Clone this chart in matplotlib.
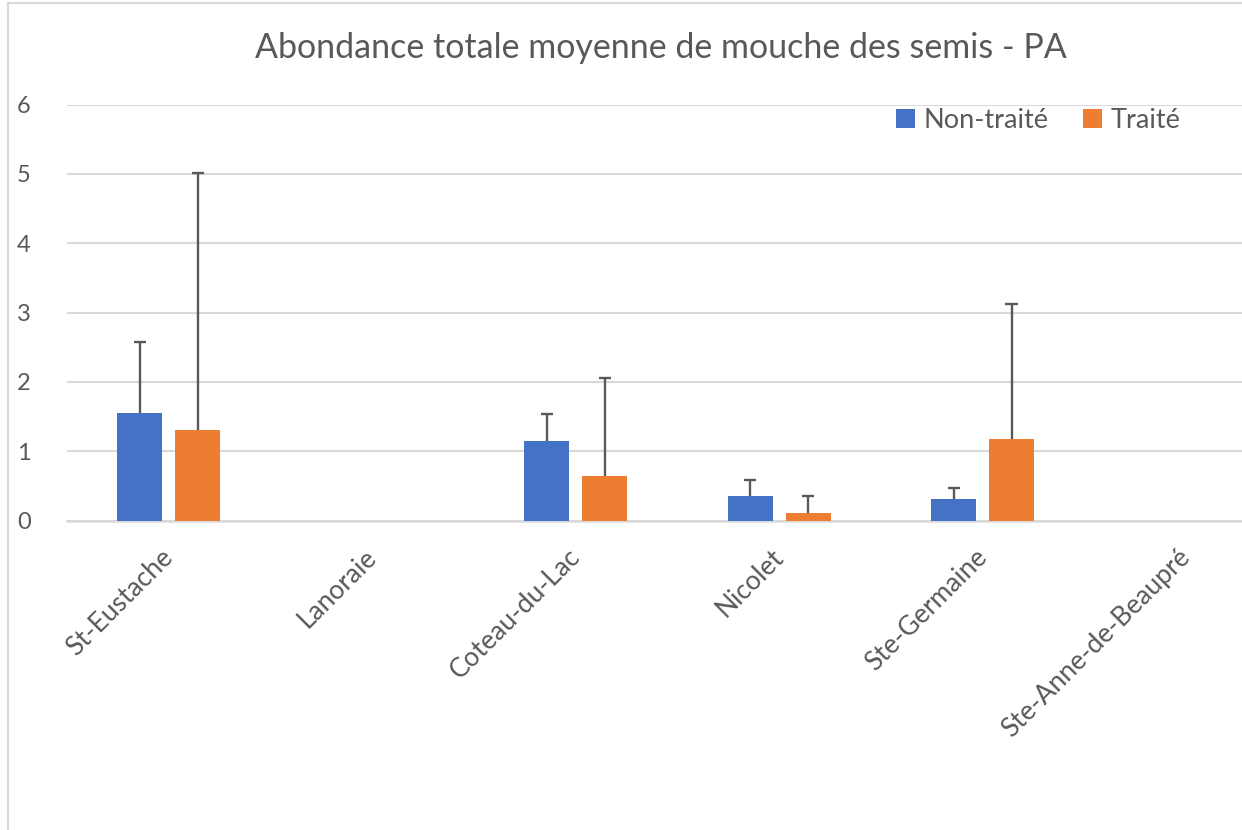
import numpy as np
import matplotlib
matplotlib.use("Agg")
from matplotlib import pyplot as plt
from matplotlib.lines import Line2D

sites = ['St-Eustache', 'Lanoraie', 'Coteau-du-Lac', 'Nicolet', 'Ste-Germaine', 'Ste-Anne-de-Beaupré']
non_traite = [1.56, 0, 1.15, 0.36, 0.31, 0]
non_traite_err = [1.01, 0, 0.39, 0.22, 0.16, 0]
traite = [1.31, 0, 0.65, 0.11, 1.18, 0]
traite_err = [3.71, 0, 1.41, 0.24, 1.95, 0]

plt.rcParams['font.family'] = ['Lato', 'DejaVu Sans']
grey = '#595959'

fig = plt.figure(figsize=(12.42, 8.30), dpi=100)
# plot area runs past the right edge of the figure
ax = fig.add_axes([0.0539, 0.3727, 0.983, 0.5012])

x = np.arange(len(sites))
w = 0.221
off = 0.1425
cap = 0.03

for xs, vals, errs, col, lab in [(x - off, non_traite, non_traite_err, '#4472c4', 'Non-traité'),
                                 (x + off, traite, traite_err, '#ed7d31', 'Traité')]:
    ax.bar(xs, vals, w, color=col, label=lab, zorder=3)
    # upper error bars only, skipped for empty sites
    for xi, v, e in zip(xs, vals, errs):
        if v > 0:
            ax.vlines(xi, v, v + e, color=grey, lw=1.7, zorder=4)
            ax.hlines(v + e, xi - cap, xi + cap, color=grey, lw=1.7, zorder=4)

ax.set_xlim(-0.5, len(sites) - 0.5)
ax.set_ylim(0, 6)
ax.set_yticks(range(7))
ax.grid(axis='y', color='#d9d9d9', linewidth=1.5, zorder=0)
for s in ['top', 'right', 'left']:
    ax.spines[s].set_visible(False)
ax.spines['bottom'].set_color('#d9d9d9')
ax.spines['bottom'].set_linewidth(1.8)
ax.tick_params(axis='y', length=0, pad=26, labelsize=17, labelcolor=grey)
ax.tick_params(axis='x', length=0, pad=17, labelsize=19, labelcolor=grey)
ax.set_xticks(x - 0.04)
ax.set_xticklabels(sites, rotation=45, ha='right', rotation_mode='anchor')

fig.text(0.532, 0.942, 'Abondance totale moyenne de mouche des semis - PA',
         ha='center', va='center', fontsize=24.5, color=grey)

fig.legend(loc='center', bbox_to_anchor=(0.836, 0.855), ncol=2, frameon=False,
           fontsize=19.5, labelcolor=grey, handlelength=0.7, handleheight=0.7,
           handletextpad=0.3, columnspacing=1.3)

# chart area border
fig.add_artist(Line2D([0.0065, 1], [0.9965, 0.9965], color='#d9d9d9', lw=1.5))
fig.add_artist(Line2D([0.0065, 0.0065], [0, 0.9965], color='#d9d9d9', lw=1.5))

fig.savefig('out.png', dpi=100)
